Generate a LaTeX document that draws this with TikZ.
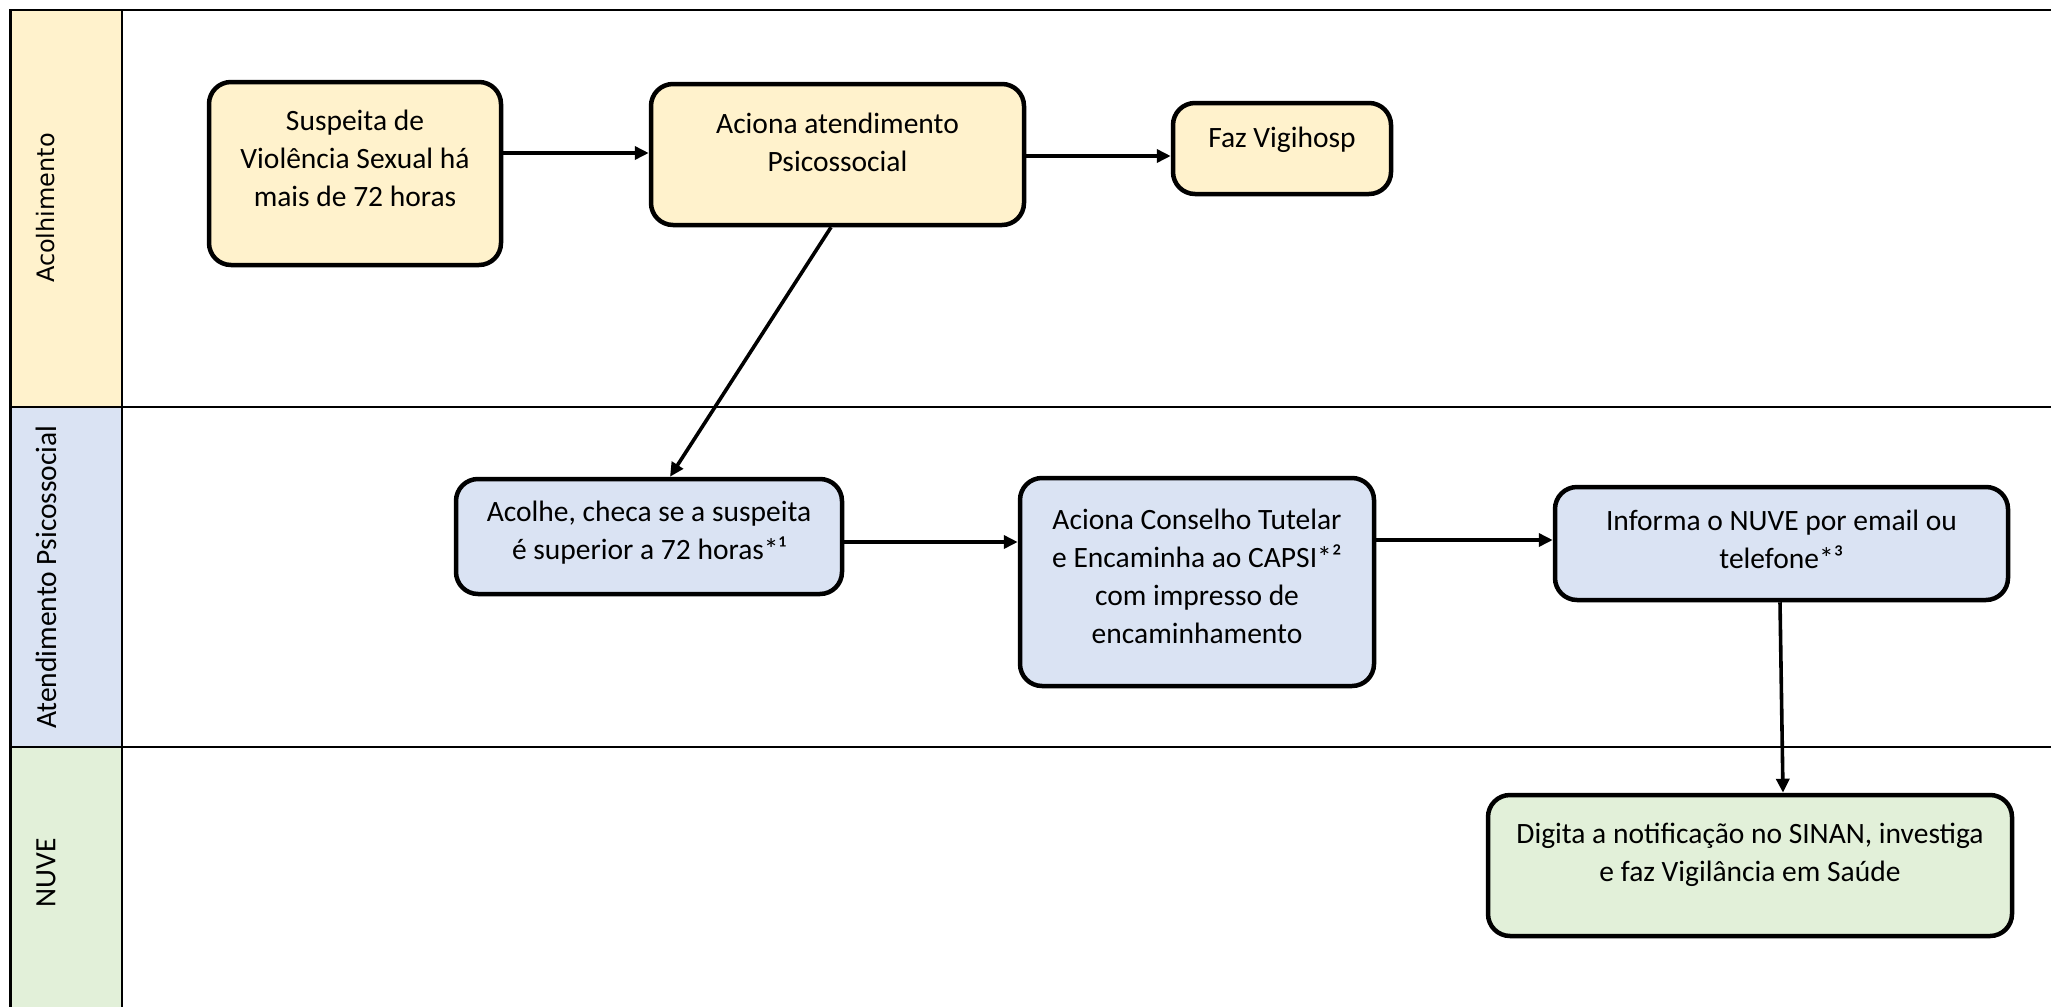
\documentclass[tikz,border=0pt]{standalone}
\usepackage{fontspec}
\setmainfont{Carlito}
\newfontfamily\dejavu{DejaVu Sans}
\usetikzlibrary{arrows.meta,calc}
\definecolor{amar}{HTML}{FFF2CC}
\definecolor{azul}{HTML}{DAE3F3}
\definecolor{verde}{HTML}{E2F0D9}
\newcommand{\bxt}[4]{\parbox[c][#2pt][t]{#1pt}{\centering\vspace*{#3pt}\strut#4}}
\begin{document}
\begin{tikzpicture}[x=1pt,y=-1pt,
  frame/.style={line width=2.8pt},
  box/.style={draw, line width=4.5pt, rounded corners=22pt, inner sep=0pt,
    font=\fontsize{29.5}{38}\selectfont},
  lane/.style={rotate=90, inner sep=0pt, font=\fontsize{29.5}{36}\selectfont},
  arr/.style={-{Triangle[length=14pt,width=13pt]}, line width=3.6pt}]
\useasboundingbox (0,0) rectangle (2051,1007);
% swimlane headers
\fill[amar] (10.5,10) rectangle (122,407);
\fill[azul] (10.5,407) rectangle (122,747);
\fill[verde] (10.5,747) rectangle (122,1007);
\draw[frame] (2051,10) -- (10.5,10) -- (10.5,1007);
\draw[frame] (122,10) -- (122,1007);
\draw[frame] (10.5,407) -- (2051,407);
\draw[frame] (10.5,747) -- (2051,747);
\node[lane, font=\dejavu\fontsize{24}{28}\selectfont] (l1) at (46,208) {Acolhimento};
\node[lane] (l2) at (46,577) {Atendimento Psicossocial};
\node[lane] (l3) at (46,873) {NUVE};
% boxes
\node[box, fill=amar] (sus) at (355,173.5) {\bxt{292}{183}{22}{Suspeita de\\Violência Sexual há\\mais de 72 horas}};
\node[box, fill=amar] (acio) at (837.5,154.5) {\bxt{373}{141}{23}{Aciona atendimento\\Psicossocial}};
\node[box, fill=amar] (faz) at (1282,148.5) {\bxt{218}{91}{18}{Faz Vigihosp}};
\node[box, fill=azul] (acol) at (649,536.5) {\bxt{386}{115}{16}{Acolhe, checa se a suspeita\\é superior a 72 horas*¹}};
\node[box, fill=azul] (cons) at (1197,582) {\bxt{354}{208}{25}{Aciona Conselho Tutelar\\e Encaminha ao CAPSI*²\\com impresso de\\encaminhamento}};
\node[box, fill=azul] (info) at (1781.5,543.5) {\bxt{453}{113}{17}{Informa o NUVE por email ou\\telefone*³}};
\node[box, fill=verde] (dig) at (1750,865.5) {\bxt{524}{141}{22}{Digita a notificação no SINAN, investiga\\e faz Vigilância em Saúde}};
% connectors
\draw[arr] (sus.east |- 0,153) -- (acio.west |- 0,153);
\draw[arr] (acio.east |- 0,156) -- (faz.west |- 0,156);
\draw[arr] (acio.south -| 831,0) -- (acol.north -| 670,0);
\draw[arr] (acol.east |- 0,542) -- (cons.west |- 0,542);
\draw[arr] (cons.east |- 0,540) -- (info.west |- 0,540);
\draw[arr] (info.south -| 1780,0) -- (dig.north -| 1783,0);
\end{tikzpicture}
\end{document}
